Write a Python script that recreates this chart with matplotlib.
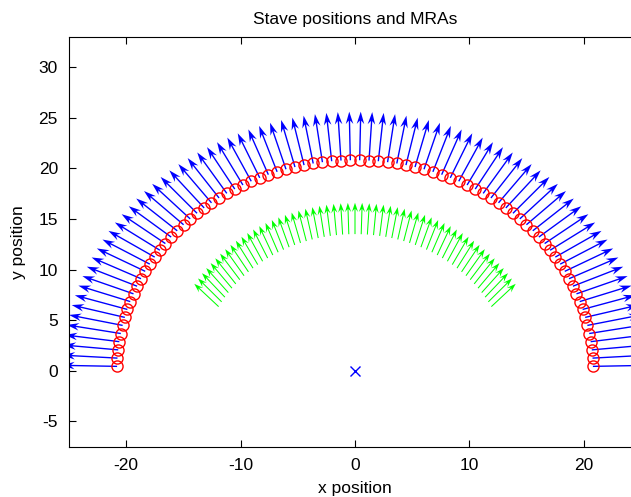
import numpy as np
import matplotlib.pyplot as plt

plt.rcParams['font.family'] = ['Liberation Sans', 'DejaVu Sans']
plt.rcParams['axes.unicode_minus'] = False

# stave layout (red circles) and outward normals (blue arrows)
n_staves = 80
stave_radius = 20.8
stave_span = [1.2, 178.8]      # degrees
normal_length = 4.8

# MRA arrows (green)
n_mra = 55
mra_radius = 13.5
mra_span = [28.0, 152.0]       # degrees
mra_length = 3.1
mra_tilt = 0.7                 # arrow direction relative to radial

# array centre
centre_x = [0.0]
centre_y = [0.0]

xticks = [-20, -10, 0, 10, 20]
yticks = [-5, 0, 5, 10, 15, 20, 25, 30]

fig = plt.figure(figsize=(6.31, 4.97), dpi=100)
ax = fig.add_axes([69 / 631, 50.3 / 497, 572 / 631, 410 / 497])

theta = np.deg2rad(np.linspace(stave_span[0], stave_span[1], n_staves))
sx = stave_radius * np.cos(theta)
sy = stave_radius * np.sin(theta)
ax.quiver(sx, sy, normal_length * np.cos(theta), normal_length * np.sin(theta),
          angles='xy', scale_units='xy', scale=1, color=(0, 0, 1),
          width=0.0024, headwidth=5.5, headlength=9, headaxislength=6.5, zorder=2)
ax.plot(sx, sy, 'o', mfc='none', mec=(1, 0, 0), ms=8, mew=1, zorder=3)

phi = np.linspace(mra_span[0], mra_span[1], n_mra)
direc = np.deg2rad(90 + mra_tilt * (phi - 90))
phi = np.deg2rad(phi)
ax.quiver(mra_radius * np.cos(phi), mra_radius * np.sin(phi),
          mra_length * np.cos(direc), mra_length * np.sin(direc),
          angles='xy', scale_units='xy', scale=1, color=(0, 1, 0),
          width=0.0018, headwidth=6, headlength=9, headaxislength=6, zorder=2)

ax.plot(centre_x, centre_y, 'x', color=(0, 0, 1), ms=7, mew=1)

ax.set_xlim(-25, 25)
ax.set_ylim(-7.5, 33)
ax.set_xticks(xticks)
ax.set_yticks(yticks)
ax.spines['right'].set_visible(False)
ax.tick_params(direction='in', top=True, right=False, length=5, pad=8,
               labelsize=12.5)
ax.set_title("Stave positions and MRAs", fontsize=12.5, pad=9)
ax.set_xlabel("x position", fontsize=12.5, labelpad=6)
ax.set_ylabel("y position", fontsize=12.5, labelpad=9)

plt.savefig('out.png', dpi=100)
